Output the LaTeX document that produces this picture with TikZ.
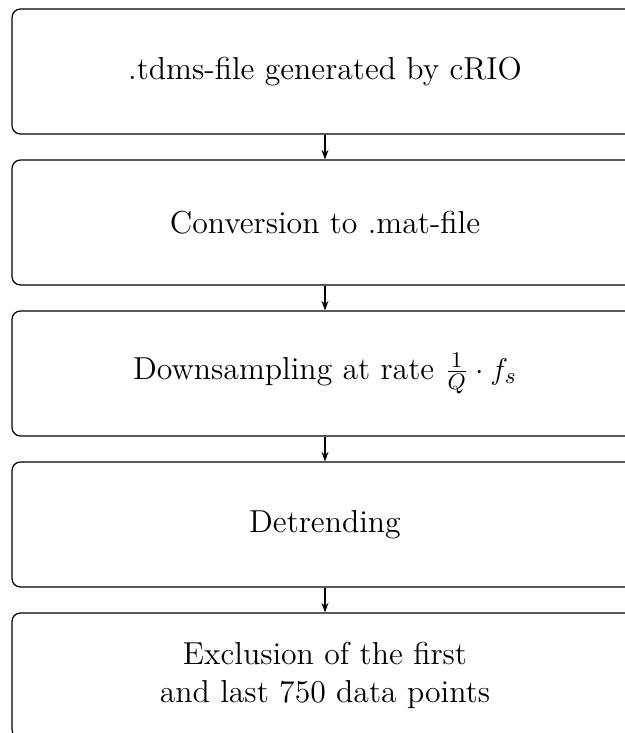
\documentclass[tikz,border=0pt]{standalone}
\usetikzlibrary{arrows.meta}
\begin{document}
\begin{tikzpicture}[x=0.4pt,y=-0.4pt,
  box/.style={draw,rounded corners=3.4pt,minimum width=250.4pt,minimum height=50pt,align=center,font=\fontsize{12.7}{15.2}\selectfont,inner sep=0pt,line width=0.5pt},
  arr/.style={-{Stealth[length=3.8pt,width=2.8pt]},line width=0.5pt}]
\useasboundingbox (0,0) rectangle (625,733);
\clip (0,0) rectangle (625,733);
\node[box] (b1) at (325,71.5) {.tdms-file generated by cRIO};
\node[box] (b2) at (325,222.5) {Conversion to .mat-file};
\node[box] (b3) at (325,373.5) {Downsampling at rate $\frac{1}{Q}\cdot f_s$};
\node[box] (b4) at (325,524.5) {Detrending};
\node[box] (b5) at (325,675.5) {Exclusion of the first\\and last 750 data points};
\draw[arr] (b1.south) -- (b2.north);
\draw[arr] (b2.south) -- (b3.north);
\draw[arr] (b3.south) -- (b4.north);
\draw[arr] (b4.south) -- (b5.north);
\end{tikzpicture}
\end{document}
